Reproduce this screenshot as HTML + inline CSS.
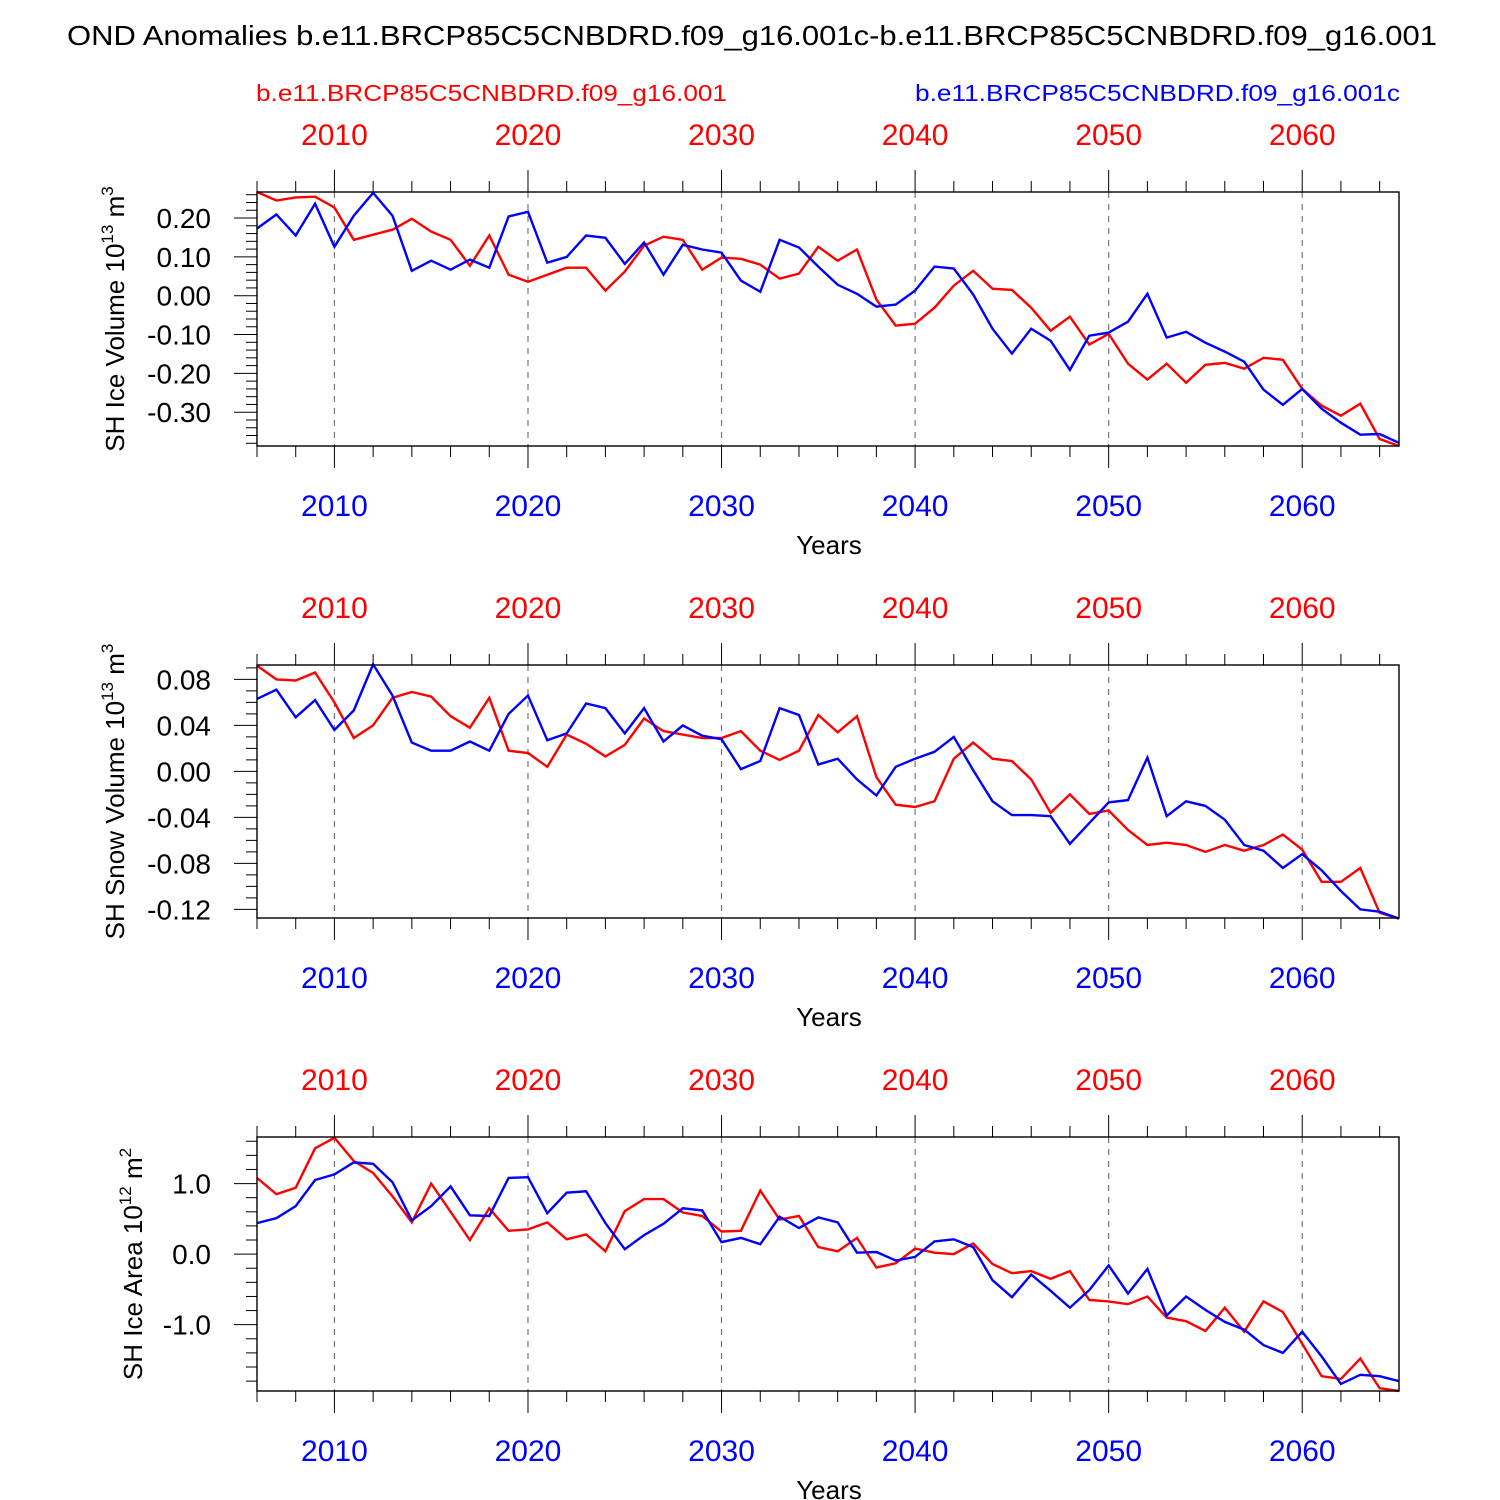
<!DOCTYPE html>
<html><head><meta charset="utf-8"><style>
html,body{margin:0;padding:0;background:#fff}
svg{display:block;font-family:"Liberation Sans",Arial,sans-serif}
</style></head><body>
<svg id="chart" width="1500" height="1500" viewBox="0 0 1500 1500">
<text x="67" y="45" font-size="28" textLength="1370" lengthAdjust="spacingAndGlyphs">OND Anomalies b.e11.BRCP85C5CNBDRD.f09_g16.001c-b.e11.BRCP85C5CNBDRD.f09_g16.001</text>
<text x="256" y="101" font-size="23" fill="#f00" textLength="471" lengthAdjust="spacingAndGlyphs">b.e11.BRCP85C5CNBDRD.f09_g16.001</text>
<text x="915" y="101" font-size="23" fill="#00f" textLength="485" lengthAdjust="spacingAndGlyphs">b.e11.BRCP85C5CNBDRD.f09_g16.001c</text>
</svg>
<script>
const years = [];
for (let y = 2006; y <= 2065; y++) years.push(y);
const xTickYears = [2010, 2020, 2030, 2040, 2050, 2060];

const volRed = [0.267,0.245,0.253,0.255,0.227,0.144,0.157,0.170,0.198,0.165,0.144,0.077,0.155,0.054,0.036,0.054,0.072,0.072,0.013,0.062,0.129,0.152,0.144,0.067,0.098,0.095,0.080,0.044,0.057,0.126,0.090,0.119,-0.010,-0.077,-0.072,-0.031,0.026,0.064,0.018,0.015,-0.031,-0.090,-0.054,-0.126,-0.098,-0.175,-0.216,-0.175,-0.224,-0.178,-0.173,-0.188,-0.160,-0.165,-0.240,-0.283,-0.309,-0.278,-0.369,-0.387];
const volBlue = [0.173,0.209,0.155,0.237,0.126,0.206,0.265,0.206,0.064,0.090,0.067,0.093,0.072,0.204,0.216,0.085,0.100,0.155,0.149,0.082,0.137,0.054,0.131,0.119,0.111,0.039,0.010,0.144,0.124,0.075,0.028,0.005,-0.028,-0.023,0.013,0.075,0.070,0.003,-0.085,-0.149,-0.085,-0.116,-0.191,-0.103,-0.095,-0.067,0.005,-0.108,-0.093,-0.121,-0.144,-0.170,-0.242,-0.281,-0.240,-0.291,-0.327,-0.358,-0.356,-0.379];
const snowRed = [0.092,0.080,0.079,0.086,0.060,0.029,0.040,0.064,0.069,0.065,0.048,0.038,0.064,0.018,0.016,0.004,0.032,0.024,0.013,0.023,0.046,0.035,0.032,0.029,0.029,0.035,0.018,0.010,0.018,0.049,0.034,0.048,-0.005,-0.029,-0.031,-0.026,0.011,0.025,0.011,0.009,-0.007,-0.036,-0.020,-0.037,-0.034,-0.051,-0.064,-0.062,-0.064,-0.070,-0.064,-0.069,-0.064,-0.055,-0.068,-0.096,-0.096,-0.084,-0.123,-0.128];
const snowBlue = [0.063,0.071,0.047,0.062,0.036,0.053,0.093,0.066,0.025,0.018,0.018,0.026,0.018,0.050,0.066,0.027,0.033,0.059,0.055,0.033,0.055,0.026,0.040,0.031,0.028,0.002,0.009,0.055,0.049,0.006,0.011,-0.007,-0.021,0.004,0.011,0.017,0.030,0.001,-0.026,-0.038,-0.038,-0.039,-0.063,-0.045,-0.027,-0.025,0.012,-0.039,-0.026,-0.030,-0.042,-0.064,-0.069,-0.084,-0.072,-0.086,-0.104,-0.120,-0.122,-0.128];
const areaRed = [1.08,0.85,0.94,1.50,1.65,1.32,1.15,0.82,0.45,1.00,0.60,0.20,0.65,0.33,0.35,0.45,0.21,0.28,0.04,0.61,0.78,0.78,0.59,0.54,0.32,0.33,0.90,0.49,0.54,0.10,0.04,0.23,-0.19,-0.13,0.08,0.02,0.00,0.15,-0.14,-0.27,-0.24,-0.35,-0.24,-0.65,-0.67,-0.71,-0.60,-0.90,-0.95,-1.09,-0.76,-1.10,-0.67,-0.82,-1.27,-1.73,-1.77,-1.48,-1.90,-1.94];
const areaBlue = [0.44,0.51,0.68,1.05,1.13,1.30,1.28,1.02,0.48,0.68,0.96,0.55,0.54,1.08,1.09,0.58,0.87,0.89,0.44,0.07,0.27,0.43,0.65,0.62,0.17,0.23,0.14,0.53,0.37,0.52,0.45,0.02,0.03,-0.09,-0.04,0.18,0.21,0.10,-0.37,-0.61,-0.29,-0.52,-0.76,-0.51,-0.16,-0.56,-0.21,-0.87,-0.60,-0.79,-0.96,-1.07,-1.29,-1.40,-1.10,-1.45,-1.84,-1.71,-1.73,-1.80];

const volTicks = [0.2,0.1,0.0,-0.1,-0.2,-0.3];
const volTickLabels = ["0.20","0.10","0.00","-0.10","-0.20","-0.30"];
const snowTicks = [0.08,0.04,0.0,-0.04,-0.08,-0.12];
const snowTickLabels = ["0.08","0.04","0.00","-0.04","-0.08","-0.12"];
const areaTicks = [1.0,0.0,-1.0];
const areaTickLabels = ["1.0","0.0","-1.0"];

const NS = "http://www.w3.org/2000/svg";
const svg = document.getElementById("chart");
function mk(tag, attrs, parent) {
  const e = document.createElementNS(NS, tag);
  for (const k in attrs) e.setAttribute(k, attrs[k]);
  (parent || svg).appendChild(e);
  return e;
}
const X0 = 257, X1 = 1399;
function xScale(yr) { return X0 + (yr - 2006) / (2065 - 2006) * (X1 - X0); }

const panels = [
  {key:"ice-volume", top:192, bot:446, vmax:0.267, vmin:-0.387, minor:0.02, red:volRed, blue:volBlue, ticks:volTicks, labels:volTickLabels, ylab:["SH Ice Volume 10","13"," m","3"], ylx:124},
  {key:"snow-volume", top:665, bot:918, vmax:0.0925, vmin:-0.1275, minor:0.01, red:snowRed, blue:snowBlue, ticks:snowTicks, labels:snowTickLabels, ylab:["SH Snow Volume 10","13"," m","3"], ylx:124},
  {key:"ice-area", top:1137, bot:1391, vmax:1.66, vmin:-1.94, minor:0.2, red:areaRed, blue:areaBlue, ticks:areaTicks, labels:areaTickLabels, ylab:["SH Ice Area 10","12"," m","2"], ylx:142}
];

panels.forEach((p, pi) => {
  const g = mk("g", {});
  
  
  const ys = v => p.top + (p.vmax - v) / (p.vmax - p.vmin) * (p.bot - p.top);
  xTickYears.forEach(yr => {
    const l = mk("line", {x1:xScale(yr), x2:xScale(yr), y1:p.top, y2:p.bot, stroke:"#777", "stroke-width":1.2, "stroke-dasharray":"6,6"}, g);
    
    
  });
  for (let yr = 2006; yr <= 2065; yr += 2) {
    const major = yr % 10 === 0;
    const len = major ? 22 : 11;
    mk("line", {x1:xScale(yr), x2:xScale(yr), y1:p.top - len, y2:p.top, stroke:"#000", "stroke-width":1}, g);
    mk("line", {x1:xScale(yr), x2:xScale(yr), y1:p.bot, y2:p.bot + len, stroke:"#000", "stroke-width":1}, g);
  }
  const nmin = Math.ceil(p.vmin / p.minor - 1e-6), nmax = Math.floor(p.vmax / p.minor + 1e-6);
  for (let i = nmin; i <= nmax; i++) {
    const v = i * p.minor;
    const y = ys(v);
    const major = p.ticks.some(t => Math.abs(t - v) < 1e-6);
    mk("line", {x1:X0 - (major ? 23 : 11), x2:X0, y1:y, y2:y, stroke:"#000", "stroke-width":1}, g);
  }
  p.ticks.forEach((t, i) => {
    const tx = mk("text", {x:X0 - 46, y:ys(t) + 10, "font-size":28, "text-anchor":"end"}, g);
    tx.textContent = p.labels[i];
    
    
  });
  [["red", p.red, "#f00"], ["blue", p.blue, "#00f"]].forEach(([nm, data, col]) => {
    const pts = data.map((v, i) => xScale(years[i]).toFixed(1) + "," + ys(v).toFixed(1)).join(" ");
    const pl = mk("polyline", {points:pts, fill:"none", stroke:col, "stroke-width":2.4, "stroke-linejoin":"miter"}, g);
    
    
  });
  const box = mk("rect", {x:X0, y:p.top, width:X1 - X0, height:p.bot - p.top, fill:"none", stroke:"#000", "stroke-width":1.4}, g);
  
  
  xTickYears.forEach(yr => {
    const t1 = mk("text", {x:xScale(yr), y:p.top - 47, "font-size":30, fill:"#f00", "text-anchor":"middle"}, g);
    t1.textContent = yr;
    
    
    const t2 = mk("text", {x:xScale(yr), y:p.bot + 70, "font-size":30, fill:"#00f", "text-anchor":"middle"}, g);
    t2.textContent = yr;
    
    
  });
  const xt = mk("text", {x:829, y:p.bot + 108, "font-size":26, "text-anchor":"middle"}, g);
  xt.textContent = "Years";
  
  
  const cy = (p.top + p.bot) / 2;
  const yt = mk("text", {x:0, y:0, "font-size":26, "text-anchor":"middle", transform:"translate(" + p.ylx + "," + cy + ") rotate(-90)"}, g);
  
  
  const s1 = mk("tspan", {}, yt); s1.textContent = p.ylab[0];
  const s2 = mk("tspan", {dy:-11, "font-size":17}, yt); s2.textContent = p.ylab[1];
  const s3 = mk("tspan", {dy:11}, yt); s3.textContent = p.ylab[2];
  const s4 = mk("tspan", {dy:-11, "font-size":17}, yt); s4.textContent = p.ylab[3];
});
</script>
</body></html>
